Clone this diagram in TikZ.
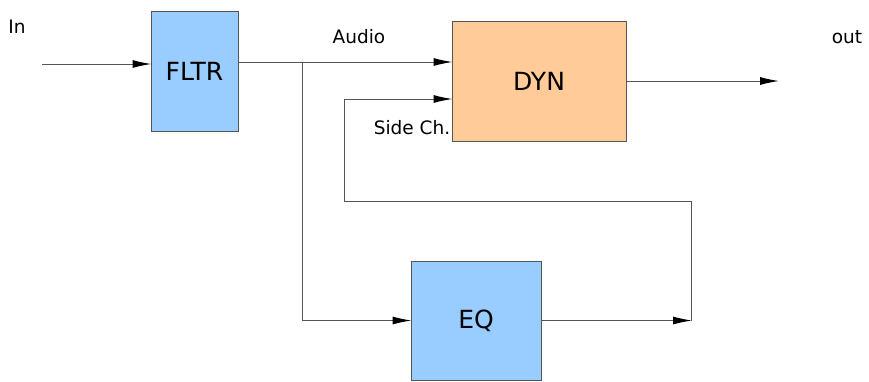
\documentclass[tikz,border=0pt]{standalone}
\usepackage{fontspec}
\setmainfont{DejaVu Sans}
\usetikzlibrary{arrows.meta}
\definecolor{boxblue}{HTML}{99CCFF}
\definecolor{boxorange}{HTML}{FFCC99}
\definecolor{linegray}{HTML}{555555}
\begin{document}
\begin{tikzpicture}[x=1pt,y=-1pt,
  blk/.style={draw=linegray, line width=1pt, inner sep=0pt, font=\fontsize{25}{27}\selectfont},
  wire/.style={draw=linegray, line width=1pt},
  arr/.style={wire, -{Latex[length=19pt,width=8pt,color=black]}, shorten >=-1pt},
  lbl/.style={font=\fontsize{18.5}{20}\selectfont, inner sep=0pt}]
\useasboundingbox (0,0) rectangle (869,381);
\node[blk, fill=boxblue, minimum width=87pt, minimum height=120pt] (fltr) at (194.5,71) {FLTR};
\node[blk, fill=boxorange, minimum width=174pt, minimum height=120pt] (dyn) at (539,81) {DYN};
\node[blk, fill=boxblue, minimum width=130pt, minimum height=119pt] (eq) at (476,320.5) {EQ};
\node[lbl] (lin) at (17,27) {In};
\node[lbl] (laudio) at (359,37) {Audio};
\node[lbl] (lside) at (412,128) {Side Ch.};
\node[lbl] (lout) at (847,37) {out};
\coordinate (inpt) at (42,64);
\coordinate (split) at (302,62);
\coordinate (sum) at (691,320.5);
\coordinate (c1) at (691,201);
\coordinate (c2) at (344,201);
\coordinate (c3) at (344,99);
\coordinate (outp) at (778,81);
\draw[arr] (inpt) -- (inpt -| fltr.west);
\draw[wire] (split -| fltr.east) -- (split);
\draw[arr] (split) -- (split -| dyn.west);
\draw[arr] (split) |- (eq.west);
\draw[arr] (eq.east) -- (sum);
\draw[arr] (sum) -- (c1) -- (c2) -- (c3) -- (c3 -| dyn.west);
\draw[arr] (dyn.east) -- (outp);
\end{tikzpicture}
\end{document}
